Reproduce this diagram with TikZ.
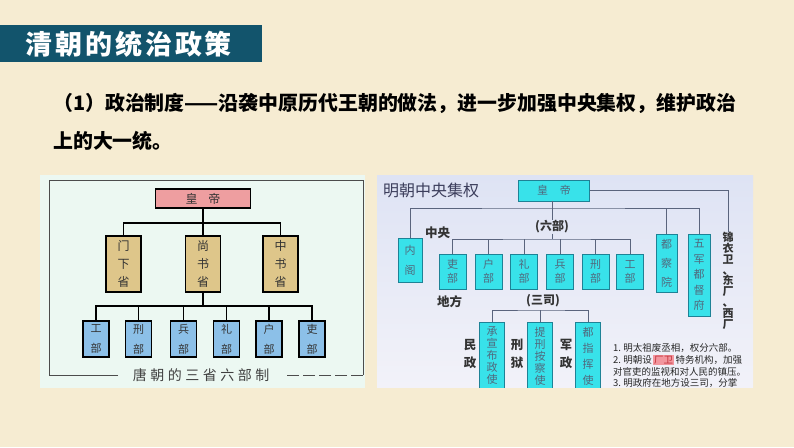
\documentclass[tikz,border=0pt]{standalone}
\usepackage{fontspec}
\setmainfont{Noto Sans CJK SC}
\newfontfamily\titlefont[LetterSpace=11]{Noto Sans CJK SC}
\newfontfamily\capfont[LetterSpace=25]{Noto Sans CJK SC}

\definecolor{slidebg}{RGB}{246,236,210}
\definecolor{titlebar}{RGB}{18,84,108}
\definecolor{tangbg}{RGB}{236,248,242}
\definecolor{tangpink}{RGB}{238,158,160}
\definecolor{tangtan}{RGB}{222,198,138}
\definecolor{tangblue}{RGB}{140,192,232}
\definecolor{mingtop}{RGB}{222,227,244}
\definecolor{mingbot}{RGB}{242,242,249}
\definecolor{mingcyan}{RGB}{56,226,234}
\definecolor{mingedge}{RGB}{30,130,150}
\definecolor{mingline}{RGB}{90,100,125}
\definecolor{mingink}{RGB}{80,105,125}
\definecolor{mingtitle}{RGB}{60,62,92}
\definecolor{notepink}{RGB}{242,150,158}
\definecolor{notered}{RGB}{190,40,50}

\begin{document}
\begin{tikzpicture}[x=1pt,y=-1pt,
  tangline/.style={black,line width=1.4pt},
  tangbox/.style={draw=black,line width=1.2pt,inner sep=0pt,align=center,text=black!80},
  tangking/.style={tangbox,fill=tangpink,minimum width=95,minimum height=19,font=\fontsize{12}{12}\selectfont},
  tangsheng/.style={tangbox,fill=tangtan,minimum width=35,minimum height=56,font=\fontsize{12}{18}\selectfont},
  tangbu/.style={tangbox,fill=tangblue,minimum width=26,minimum height=36,font=\fontsize{11}{20}\selectfont},
  mingwire/.style={mingline,line width=0.7pt},
  mingbox/.style={draw=mingedge,line width=0.9pt,fill=mingcyan,inner sep=0pt,align=center,text=mingink},
  minglabel/.style={inner sep=0pt,align=center,text=black!80,font=\bfseries\fontsize{12.5}{18}\selectfont},
  notetext/.style={anchor=west,inner sep=0pt,text=black!85,font=\fontsize{9.5}{9.5}\selectfont}
]
\useasboundingbox (0,0) rectangle (794,447);
\fill[slidebg] (0,0) rectangle (794,447);

% title bar and text
\fill[titlebar] (0,25) rectangle (262,62);
\node[anchor=west,inner sep=0pt,text=white,font=\titlefont\bfseries\fontsize{27}{27}\selectfont] (title) at (25,44) {清朝的统治政策};
\node[anchor=west,inner sep=0pt,font=\bfseries\fontsize{19.9}{19.9}\selectfont] (line1) at (53,103) {（1）政治制度——沿袭中原历代王朝的做法，进一步加强中央集权，维护政治};
\node[anchor=west,inner sep=0pt,font=\bfseries\fontsize{19.9}{19.9}\selectfont] (line2) at (53,141) {上的大一统。};

% Tang chart
\fill[tangbg] (40,175) rectangle (365,388);
\node[inner sep=0pt,text=black!75,font=\capfont\fontsize{14}{14}\selectfont] (tangcap) at (201,375) {唐朝的三省六部制};
\coordinate (capL) at (118,375);
\coordinate (capR) at (285,375);
\draw[black!70,line width=0.8pt] (capL) -- (49,375) -- (49,180) -- (363,180) -- (363,375);
\draw[black!70,line width=0.8pt,dash pattern=on 12pt off 4pt] (363,375) -- (capR);

\node[tangking] (tanghd) at (203,198.5) {皇\hspace{11pt}帝};
\node[tangsheng] (menxia) at (123.5,264) {门\\下\\省};
\node[tangsheng] (shangshu) at (203,264) {尚\\书\\省};
\node[tangsheng] (zhongshu) at (280.5,264) {中\\书\\省};
\foreach \nm/\x/\ch in {gong/96/工, xing/138.5/刑, bing/183.5/兵, li/226.5/礼, hu/269/户, lii/312/吏}
  \node[tangbu] (tang\nm) at (\x,339) {\ch\\部};

\coordinate (tangbusA) at (203,223);
\coordinate (tangbusB) at (203,306);
\draw[tangline] (tanghd.south) -- (shangshu.north);
\draw[tangline] (menxia.north) |- (tangbusA) -| (zhongshu.north);
\draw[tangline] (shangshu.south) -- (tangbusB);
\draw[tangline] (tanggong.north) |- (tangbusB) -| (tanglii.north);
\foreach \nm in {xing,bing,li,hu}
  \draw[tangline] (tang\nm.north) -- (tang\nm.north |- tangbusB);

% Ming chart
\begin{scope}
\clip (377,175) rectangle (753,387);
\shade[top color=mingtop,bottom color=mingbot] (377,175) rectangle (753,387);
\node[anchor=west,inner sep=0pt,text=mingtitle,font=\fontsize{16}{16}\selectfont] (mingtitle) at (383,190) {明朝中央集权};

\node[mingbox,minimum width=71,minimum height=21,font=\fontsize{11}{11}\selectfont] (minghd) at (554,190.5) {皇\hspace{12pt}帝};
\node[mingbox,minimum width=24,minimum height=44,font=\fontsize{11}{20}\selectfont] (neige) at (410,260) {内\\阁};
\foreach \nm/\x/\ch in {libu/452.5/吏, hubu/488.5/户, lbu/524/礼, bingbu/560/兵, xingbu/595.5/刑, gongbu/630/工}
  \node[mingbox,minimum width=27,minimum height=35,font=\fontsize{11}{14}\selectfont] (ming\nm) at (\x,271.5) {\ch\\部};
\node[mingbox,minimum width=21,minimum height=58,font=\fontsize{11}{19}\selectfont] (duchayuan) at (666.5,263) {都\\察\\院};
\node[mingbox,minimum width=22,minimum height=82,font=\fontsize{11}{15.5}\selectfont] (wujun) at (699,275) {五\\军\\都\\督\\府};
\node[anchor=north,inner sep=0pt,align=center,text=black!80,font=\bfseries\fontsize{11}{10.8}\selectfont] (jinyiwei) at (728,232) {锦\\衣\\卫\\、\\东\\厂\\、\\西\\厂};

\node[minglabel] (zhongyang) at (437.5,233) {中央};
\node[minglabel] (difang) at (449.5,302) {地方};
\node[minglabel,font=\bfseries\fontsize{12}{12}\selectfont] (liubu) at (552,227) {(六部)};
\node[minglabel,font=\bfseries\fontsize{12}{12}\selectfont] (sansi) at (543,301) {(三司)};

\coordinate (mingbusA) at (552,208);
\coordinate (mingbusB) at (552,239);
\coordinate (mingbusC) at (542,310);
\draw[mingwire] (minghd.south -| liubu.north) -- (liubu.north);
\draw[mingwire] (liubu.south) -- (mingbusB);
\draw[mingwire] (neige.north) |- (mingbusA) -| (wujun.north);
\draw[mingwire] (duchayuan.north) -- (duchayuan.north |- mingbusA);
\draw[mingwire] (minglibu.north) |- (mingbusB) -| (minggongbu.north);
\foreach \nm in {hubu,lbu,bingbu,xingbu}
  \draw[mingwire] (ming\nm.north) -- (ming\nm.north |- mingbusB);
\draw[mingwire] (minghd.east) -| (jinyiwei.north);

% three offices, cut by the picture edge
\node[mingbox,minimum width=25,minimum height=68,font=\fontsize{11}{12}\selectfont] (chengxuan) at (492,356) {承\\宣\\布\\政\\使};
\node[mingbox,minimum width=25,minimum height=68,font=\fontsize{11}{12}\selectfont] (tixing) at (540,356) {提\\刑\\按\\察\\使};
\node[mingbox,minimum width=25,minimum height=68,font=\fontsize{11}{16}\selectfont] (duzhihui) at (588,356) {都\\指\\挥\\使};
\draw[mingwire] (chengxuan.north) |- (mingbusC) -| (duzhihui.north);
\draw[mingwire] (tixing.north) -- (tixing.north |- mingbusC);
\node[minglabel] (minzheng) at (470,354) {民\\政};
\node[minglabel] (xingyu) at (517,354) {刑\\狱};
\node[minglabel] (junzheng) at (566,354) {军\\政};

% notes
\node[notetext] (note1) at (613,348) {1.\ 明太祖废丞相，权分六部。};
\node[notetext] (note2) at (613,360) {2.\ 明朝设\,{\setlength\fboxsep{0.8pt}\colorbox{notepink}{\textcolor{notered}{厂卫}}}\,特务机构，加强};
\node[notetext] (note3) at (613,371.5) {对官吏的监视和对人民的镇压。};
\node[notetext] (note4) at (613,383) {3.\ 明政府在地方设三司，分掌};
\end{scope}

\end{tikzpicture}
\end{document}
